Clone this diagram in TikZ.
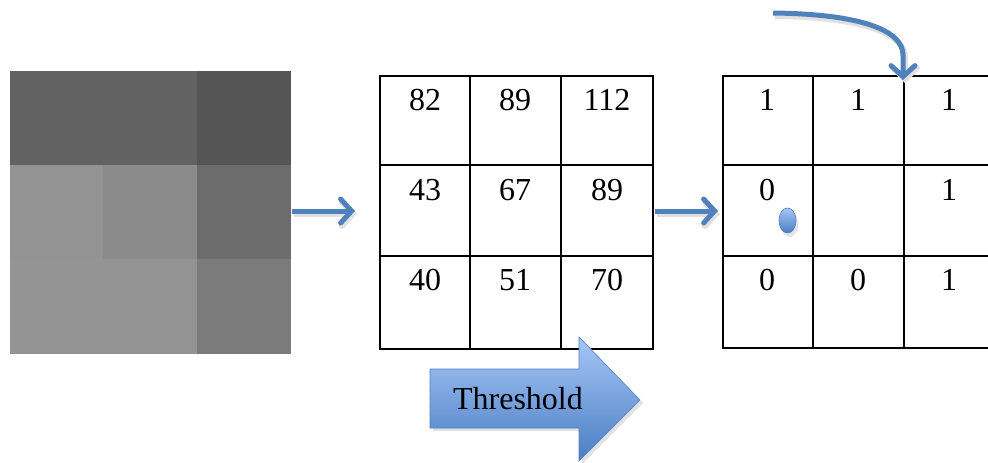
\documentclass[tikz,border=0pt]{standalone}
\usepackage{fontspec}
\setmainfont{Liberation Serif}
\usetikzlibrary{arrows.meta,shapes.geometric}
\definecolor{ablue}{HTML}{4F81BD}
\definecolor{lblue}{HTML}{A7C7F7}
\definecolor{dblue}{HTML}{4A7DC4}
\tikzset{
  cellnum/.style={anchor=base,font=\fontsize{32}{32}\selectfont,inner sep=0pt},
  gridbox/.style={draw=black,line width=1.6pt,inner sep=0pt,anchor=north west,minimum width=273pt,minimum height=272pt},
  gridline/.style={draw=black,line width=1.6pt},
  flowarrow/.style={draw=ablue,line width=5pt,-{Straight Barb[length=11pt,width=24pt,line cap=round]}},
  arrowshadow/.style={draw=black!12,line width=6pt,-{Straight Barb[length=11pt,width=24pt,line cap=round]}},
  gcell/.style={draw=none,inner sep=0pt,anchor=north west,minimum width=94pt,minimum height=95pt}
}
\begin{document}
\begin{tikzpicture}[x=1pt,y=-1pt]
\useasboundingbox (0,0) rectangle (988,463);
\clip (0,0) rectangle (988,463);
% gray image
\node[gcell,fill={rgb,255:red,98;green,98;blue,98}] (i11) at (10,71) {};
\node[gcell,fill={rgb,255:red,98;green,98;blue,98}] (i12) at (103,71) {};
\node[gcell,fill={rgb,255:red,85;green,85;blue,85}] (i13) at (197,71) {};
\node[gcell,fill={rgb,255:red,147;green,147;blue,147}] (i21) at (10,165) {};
\node[gcell,fill={rgb,255:red,139;green,139;blue,139}] (i22) at (103,165) {};
\node[gcell,fill={rgb,255:red,108;green,108;blue,108}] (i23) at (197,165) {};
\node[gcell,fill={rgb,255:red,148;green,148;blue,148}] (i31) at (10,259) {};
\node[gcell,fill={rgb,255:red,147;green,147;blue,147}] (i32) at (103,259) {};
\node[gcell,fill={rgb,255:red,123;green,123;blue,123}] (i33) at (197,259) {};
\node[inner sep=0pt,anchor=north west,minimum width=281pt,minimum height=283pt] (img) at (10,71) {};
% grid 2
\node[gridbox,minimum height=273pt] (g2) at (379,75) {};
\draw[gridline] (470,75) -- (470,348) (561,75) -- (561,348) (379,165) -- (652,165) (379,256) -- (652,256);
\node[cellnum] (a11) at (425,110) {82};
\node[cellnum] (a12) at (515,110) {89};
\node[cellnum] (a13) at (607,110) {112};
\node[cellnum] (a21) at (425,200) {43};
\node[cellnum] (a22) at (515,200) {67};
\node[cellnum] (a23) at (607,200) {89};
\node[cellnum] (a31) at (425,290) {40};
\node[cellnum] (a32) at (515,290) {51};
\node[cellnum] (a33) at (607,290) {70};
% grid 3
\node[gridbox] (g3) at (722,75) {};
\draw[gridline] (813,75) -- (813,347) (904,75) -- (904,347) (722,165) -- (995,165) (722,256) -- (995,256);
\node[cellnum] (b11) at (767,110) {1};
\node[cellnum] (b12) at (858,110) {1};
\node[cellnum] (b13) at (949,110) {1};
\node[cellnum] (b21) at (767,200) {0};
\node[cellnum] (b23) at (949,200) {1};
\node[cellnum] (b31) at (767,290) {0};
\node[cellnum] (b32) at (858,290) {0};
\node[cellnum] (b33) at (949,290) {1};
% dot
\fill[black!10] (789.5,224) ellipse (9pt and 13pt);
\node[ellipse,minimum width=17pt,minimum height=25pt,inner sep=0pt,draw=ablue,line width=0.6pt,top color=lblue,bottom color=dblue] (dot) at (787.5,220.5) {};
% flow arrows
\coordinate (s1) at (292,211);
\coordinate (e1) at (355,211);
\coordinate (s2) at (655,211);
\coordinate (e2) at (718,211);
\draw[arrowshadow] ([shift={(2,3)}]s1) -- ([shift={(2,3)}]e1);
\draw[arrowshadow] ([shift={(2,3)}]s2) -- ([shift={(2,3)}]e2);
\draw[flowarrow] (s1) -- (e1);
\draw[flowarrow] (s2) -- (e2);
% curved arrow
\coordinate (cs) at (773,13);
\coordinate (ce) at (903,80);
\draw[arrowshadow] (775,16) .. controls (862,17) and (905,33) .. (905,58) -- (905,83);
\draw[flowarrow] (cs) .. controls (860,14) and (903,30) .. (903,55) -- (ce);
% threshold block arrow
\fill[black!12] (433,372) -- (582,372) -- (582,340) -- (643,403) -- (582,464) -- (582,431) -- (433,431) -- cycle;
\shade[top color=lblue,bottom color=dblue,draw=ablue,line width=0.6pt]
  (430,369) -- (579,369) -- (579,337) -- (640,400) -- (579,461) -- (579,428) -- (430,428) -- cycle;
\node[font=\fontsize{32}{32}\selectfont,inner sep=0pt] (thr) at (518,399) {Threshold};
\end{tikzpicture}
\end{document}
